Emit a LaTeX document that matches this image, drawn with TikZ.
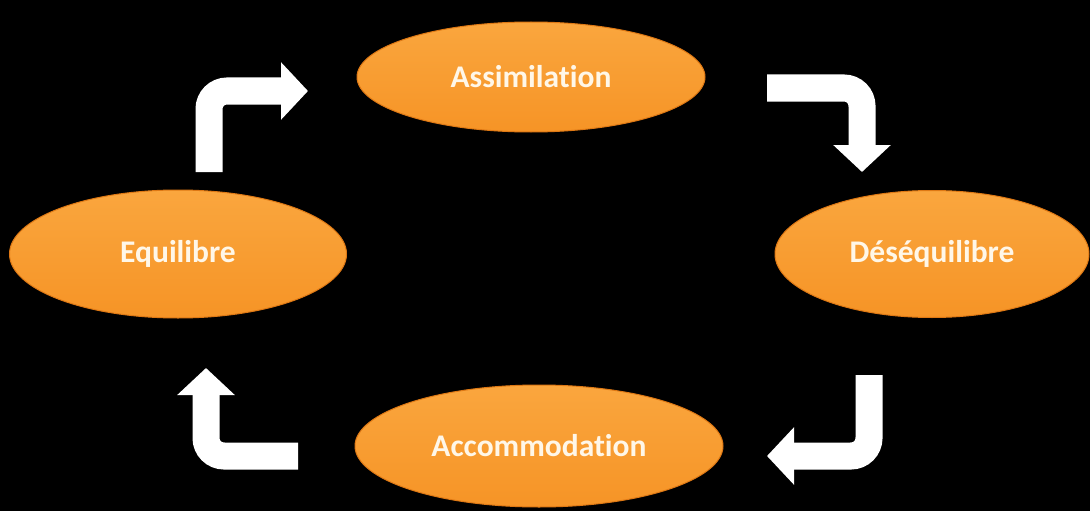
\documentclass[tikz,border=0pt]{standalone}
\usepackage{fontspec}
\setmainfont{Carlito}[Ligatures={NoCommon}]
\usetikzlibrary{shapes.geometric,arrows.meta}

\definecolor{phaseorange}{RGB}{246,148,38}
\definecolor{phaselight}{RGB}{250,166,62}
\definecolor{phaseedge}{RGB}{222,120,20}
\definecolor{phasetext}{RGB}{255,247,232}

\tikzset{
  phase/.style={ellipse, inner sep=0pt, draw=phaseedge, line width=1pt,
    top color=phaselight, bottom color=phaseorange,
    text=phasetext, font=\fontsize{31.5}{36}\selectfont\bfseries},
  bentarrow/.style={draw=white, line width=27pt, rounded corners=18pt,
    -{Triangle[width=56pt,length=27pt]}}
}

\begin{document}
\begin{tikzpicture}[x=1pt,y=-1pt]

% Background
\fill[black] (0,0) rectangle (1090,511);
\useasboundingbox (0,0) rectangle (1090,511);

% Phases
\node[phase, minimum width=348pt, minimum height=110pt] (assim) at (531,77) {Assimilation};
\node[phase, minimum width=314pt, minimum height=127pt] (deseq) at (932,254) {Déséquilibre};
\node[phase, minimum width=368pt, minimum height=122pt] (accom) at (539,446) {Accommodation};
\node[phase, minimum width=337pt, minimum height=128pt] (equil) at (178,254) {Equilibre};

% Arrow ends
\coordinate (a1s) at (209,172);
\coordinate (a1e) at (308,91);
\coordinate (a2s) at (767,88);
\coordinate (a2e) at (862,172);
\coordinate (a3s) at (869,375);
\coordinate (a3e) at (767,456);
\coordinate (a4s) at (298,456);
\coordinate (a4e) at (206,368);

% Bent arrows of the cycle
\draw[bentarrow] (a1s) |- (a1e);
\draw[bentarrow] (a2s) -| (a2e);
\draw[bentarrow] (a3s) |- (a3e);
\draw[bentarrow] (a4s) -| (a4e);

\end{tikzpicture}
\end{document}
